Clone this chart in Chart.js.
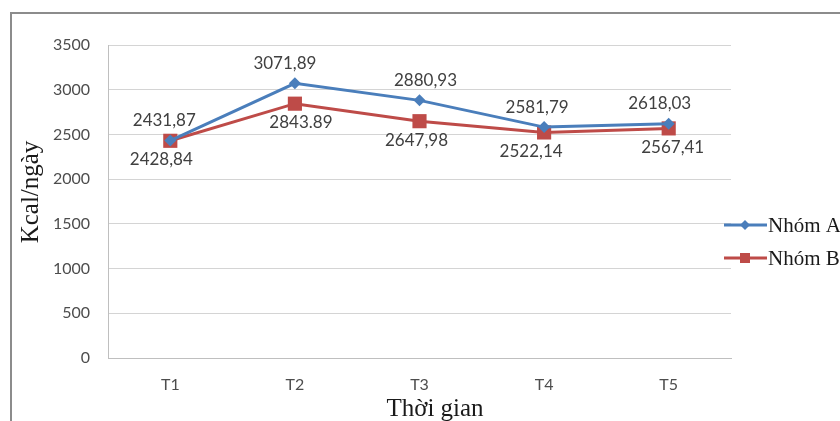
<!DOCTYPE html>
<html>
<head>
<meta charset="utf-8">
<script src="https://cdn.jsdelivr.net/npm/chart.js@4"></script>
<style>
  body { margin: 0; background: #fff; }
  #wrap { width: 840px; height: 421px; position: relative; }
</style>
</head>
<body>
<div id="wrap"><canvas id="kcalChart" width="840" height="421"></canvas></div>
<script>
// Energy intake per group over time
const periods = ["T1", "T2", "T3", "T4", "T5"];
const groupA = [2431.87, 3071.89, 2880.93, 2581.79, 2618.03];
const groupB = [2428.84, 2843.89, 2647.98, 2522.14, 2567.41];
const labelsA = ["2431,87", "3071,89", "2880,93", "2581,79", "2618,03"];
const labelsB = ["2428,84", "2843.89", "2647,98", "2522,14", "2567,41"];
const seriesNames = ["Nhóm A", "Nhóm B"];

const blue = "#4a7ebb";
const red = "#be4b48";

// small sideways nudges for the value labels
const nudgeA = [-6, -10, 6, -7, -9];
const nudgeB = [-9, 6, -3, -13, 4];

// frame, axis titles, legend and value labels drawn around the plot
const decorations = {
    id: "decorations",
    beforeDraw(chart) {
        let ctx = chart.ctx;
        ctx.save();
        ctx.fillStyle = "#fff";
        ctx.fillRect(0, 0, chart.width, chart.height);
        ctx.strokeStyle = "#8c8c8c";
        ctx.lineWidth = 2;
        ctx.strokeRect(11, 13, 900, 500);
        ctx.restore();
    },
    afterDraw(chart) {
        let ctx = chart.ctx;
        ctx.save();
        ctx.fillStyle = "#1a1a1a";
        ctx.font = "25px 'Liberation Serif'";
        ctx.textAlign = "center";
        ctx.textBaseline = "middle";
        ctx.fillText("Thời gian", 435, 409);

        ctx.save();
        ctx.translate(31, 192);
        ctx.rotate(-Math.PI / 2);
        ctx.fillText("Kcal/ngày", 0, 0);
        ctx.restore();

        // legend: line sample with marker, then name
        let rows = [225, 258];
        let colors = [blue, red];
        ctx.textAlign = "left";
        ctx.font = "21px 'Liberation Serif'";
        rows.forEach((y, i) => {
            ctx.strokeStyle = colors[i];
            ctx.lineWidth = 3;
            ctx.beginPath();
            ctx.moveTo(724, y);
            ctx.lineTo(767, y);
            ctx.stroke();
            ctx.fillStyle = colors[i];
            ctx.beginPath();
            if (i === 0) {
                ctx.moveTo(745, y - 5);
                ctx.lineTo(750, y);
                ctx.lineTo(745, y + 5);
                ctx.lineTo(740, y);
            } else {
                ctx.rect(740, y - 5, 10, 10);
            }
            ctx.fill();
            ctx.fillStyle = "#1a1a1a";
            ctx.fillText(seriesNames[i], 768, y + 1);
        });
        ctx.restore();
    },
    afterDatasetsDraw(chart) {
        let ctx = chart.ctx;
        ctx.save();
        ctx.font = "17px Lato";
        ctx.fillStyle = "#404040";
        ctx.textAlign = "center";
        ctx.textBaseline = "middle";
        chart.getDatasetMeta(0).data.forEach((pt, i) => {
            ctx.fillText(labelsA[i], pt.x + nudgeA[i], pt.y - 20);
        });
        chart.getDatasetMeta(1).data.forEach((pt, i) => {
            ctx.fillText(labelsB[i], pt.x + nudgeB[i], pt.y + 19);
        });
        ctx.restore();
    }
};

new Chart(document.getElementById("kcalChart").getContext("2d"), {
    type: "line",
    data: {
        labels: periods,
        datasets: [{
            label: seriesNames[0],
            data: groupA,
            borderColor: blue,
            backgroundColor: blue,
            borderWidth: 3,
            pointStyle: "rectRot",
            pointRadius: 6,
            pointBorderWidth: 0,
            tension: 0
        }, {
            label: seriesNames[1],
            data: groupB,
            borderColor: red,
            backgroundColor: red,
            borderWidth: 3,
            pointStyle: "rect",
            pointRadius: 10,
            pointBorderWidth: 0,
            tension: 0
        }]
    },
    options: {
        responsive: false,
        animation: false,
        layout: { padding: { top: 45, right: 109, left: 0, bottom: 0 } },
        plugins: {
            legend: { display: false },
            tooltip: { enabled: false }
        },
        scales: {
            x: {
                offset: true,
                grid: { display: false, drawTicks: false },
                border: { color: "#bfbfbf" },
                ticks: { color: "#4d4d4d", font: { family: "Lato", size: 16 }, padding: 17 },
                afterFit(scale) { scale.height = 63; }
            },
            y: {
                min: 0,
                max: 3500,
                grid: { color: "#d4d4d4", drawTicks: false },
                border: { color: "#bfbfbf" },
                ticks: {
                    stepSize: 500,
                    color: "#4d4d4d",
                    font: { family: "Lato", size: 16 },
                    padding: 18,
                    callback: v => String(v)
                },
                afterFit(scale) { scale.width = 108; }
            }
        }
    },
    plugins: [decorations]
});
</script>
</body>
</html>
